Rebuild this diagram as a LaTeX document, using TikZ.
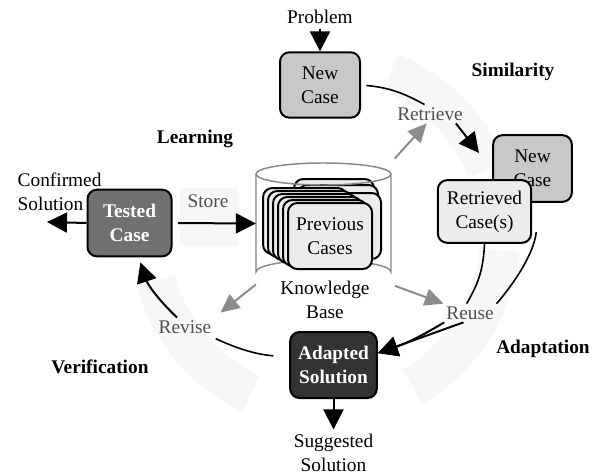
\documentclass[tikz,border=0pt]{standalone}
\usepackage{fontspec}
\setmainfont{Liberation Serif}
\usepackage{tikz}
\usetikzlibrary{arrows.meta,positioning,calc}
\definecolor{newgray}{RGB}{200,200,200}
\definecolor{lightcase}{RGB}{236,236,236}
\definecolor{testgray}{RGB}{112,112,112}
\definecolor{adaptgray}{RGB}{51,51,51}
\definecolor{arrowgray}{RGB}{140,140,140}
\definecolor{labelgray}{RGB}{80,80,80}
\definecolor{ringgray}{RGB}{247,247,247}
\definecolor{kbgray}{RGB}{135,135,135}

\begin{document}
\begin{tikzpicture}[
    x=0.75pt, y=-0.75pt,
    every node/.style={font=\rmfamily\fontsize{14.5}{18}\selectfont, align=center},
    casebox/.style={rectangle, draw=black, line width=1.5pt, fill=#1, rounded corners=7pt,
                    minimum width=60pt, minimum height=49pt, inner sep=1pt},
    stackbox/.style={casebox=lightcase, minimum width=63pt, minimum height=49.5pt},
    steplabel/.style={text=labelgray, inner sep=2pt},
    phase/.style={font=\rmfamily\fontsize{14.5}{18}\selectfont\bfseries},
    blackarrow/.style={-{Triangle[length=15pt,width=15pt]}, line width=1.5pt},
    grayarrow/.style={-{Triangle[length=14pt,width=13pt]}, line width=1.5pt, draw=arrowgray},
    flow/.style={line width=1.2pt},
    band/.style={draw=ringgray, line width=30pt}
]
\useasboundingbox (0,0) rectangle (593,475);

% Faint bands of the cycle behind the step labels
\coordinate (hub) at (325,235);
\draw[band] ($(hub)+(-22:175)$) arc[start angle=-22, end angle=-68, radius=175];
\draw[band] ($(hub)+(5:175)$) arc[start angle=5, end angle=60, radius=175];
\draw[band] ($(hub)+(165:175)$) arc[start angle=165, end angle=115, radius=175];
\fill[ringgray] (180,188) rectangle (238,246);

% Phase names
\node[phase] (sim) at (513,72) {Similarity};
\node[phase] (learn) at (195,139) {Learning};
\node[phase] (adapt) at (543,349) {Adaptation};
\node[phase] (verif) at (100,367) {Verification};

% Problem and new case
\node (prob) at (320,17) {Problem};
\node[casebox=newgray] (nc) at (320,85) {New\\Case};

% Knowledge base cylinder
\node[minimum width=101pt, minimum height=91pt] (kb) at (323.5,223.5) {};
\draw[kbgray, line width=1.1pt] (256,174) -- (256,272) arc[start angle=180, end angle=360, x radius=67.5, y radius=12] -- (391,174);

% Stack of previous cases
\node[stackbox, minimum width=60pt] (back1) at (334,212) {};
\node[stackbox, minimum width=60pt] (back2) at (338,218) {};
\node[stackbox, minimum width=60pt] (back3) at (341,226) {};
\draw[kbgray, line width=1.1pt] (323.5,174) ellipse[x radius=67.5, y radius=11];
\foreach \i in {0,...,4}
    \node[stackbox] (pc\i) at (305+5*\i,221+3*\i) {};
\node[stackbox] (pc) at (330,236) {Previous\\Cases};
\node[fill=white, inner sep=1pt] (kbase) at (325,300) {Knowledge\\Base};

% Retrieved and new case pair
\node[casebox=newgray, minimum width=59pt, minimum height=50pt] (nc2) at (532.5,168.5) {New\\Case};
\node[casebox=lightcase, minimum width=70pt, minimum height=47pt] (rc) at (484.5,211.5) {Retrieved\\Case(s)};

% Tested case and adapted solution
\node[casebox=testgray, text=white, font=\rmfamily\fontsize{14.5}{18}\selectfont\bfseries,
      minimum width=63pt, minimum height=50pt] (tc) at (129.5,223) {Tested\\Case};
\node[casebox=adaptgray, text=white, font=\rmfamily\fontsize{14.5}{18}\selectfont\bfseries,
      minimum width=65pt, minimum height=49.5pt] (ad) at (333.5,365) {Adapted\\Solution};

% Outputs
\node[align=left, anchor=west] (conf) at (13,192) {Confirmed\\Solution};
\node (sug) at (333.5,453) {Suggested\\Solution};
\coordinate (cout) at (47,222);
\coordinate (rtip) at (479,153);

% Step labels
\node[steplabel] (ret) at (430,114) {Retrieve};
\node[steplabel] (reu) at (470,313) {Reuse};
\node[steplabel] (rev) at (185,327) {Revise};
\node[steplabel] (sto) at (208,201) {Store};

% Cycle
\draw[blackarrow] (prob) -- (nc);
\draw[flow, shorten <=4pt] (nc.east) to[bend left=12] (ret.120);
\draw[blackarrow] (ret.-20) -- (rtip);
\draw[grayarrow, shorten <=4pt] (kb.north east) -- (ret.250);
\draw[flow] (rc.south) to[bend left=14] (reu.110);
\draw[flow, shorten <=22pt] (nc2.-80) to[bend left=18] (reu.north east);
\draw[blackarrow] (reu.200) to[bend left=6] (ad.15);
\draw[blackarrow] (reu.235) -- (ad.15);
\draw[grayarrow, shorten <=3pt] (kb.south east) -- (reu.north west);
\draw[grayarrow, shorten >=6pt] (kb.south west) -- (rev.north east);
\draw[flow, shorten <=12pt, shorten >=4pt] (ad.170) to[bend left=10] (rev.-20);
\draw[blackarrow, shorten >=4pt] (rev.130) to[bend left=14] (tc.-75);
\draw[blackarrow, shorten <=4pt] (tc.east) -- (kb.west);
\draw[blackarrow] (tc.west) -- (cout);
\draw[blackarrow] (ad.south) -- (sug.north);

\end{tikzpicture}
\end{document}
